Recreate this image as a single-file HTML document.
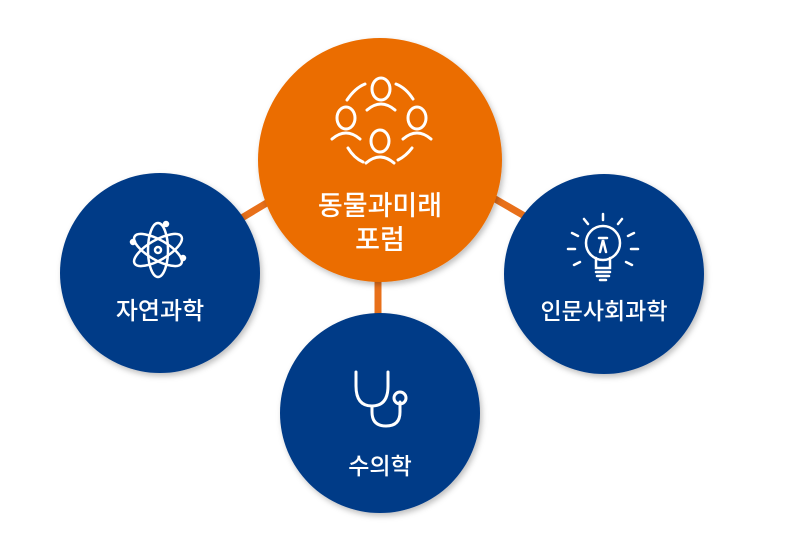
<!DOCTYPE html>
<html><head><meta charset="utf-8"><style>
html,body{margin:0;padding:0;background:#fff;}
svg{display:block}
text{font-family:"Liberation Sans","Noto Sans CJK KR",sans-serif;fill:#fff;text-anchor:middle;font-weight:500}
</style></head><body>
<svg width="791" height="550" viewBox="0 0 791 550" xmlns="http://www.w3.org/2000/svg">
<defs><filter id="sh" x="-20%" y="-20%" width="140%" height="140%"><feDropShadow dx="2" dy="3" stdDeviation="3" flood-color="#000" flood-opacity="0.25"/></filter></defs>
<g stroke="#E8701A" stroke-width="7">
<line x1="235" y1="222" x2="275" y2="198"/>
<line x1="490" y1="196" x2="528" y2="218"/>
<line x1="378" y1="270" x2="378" y2="320"/>
</g>
<circle cx="160" cy="273" r="100" fill="#033A87" filter="url(#sh)"/>
<circle cx="380" cy="413" r="100" fill="#033A87" filter="url(#sh)"/>
<circle cx="604" cy="274" r="100" fill="#033A87" filter="url(#sh)"/>
<circle cx="380" cy="160" r="122" fill="#EB6D00" filter="url(#sh)"/>
<g fill="none" stroke="#fff" stroke-width="3" stroke-linecap="round">
<ellipse cx="381" cy="89" rx="9" ry="11"/><path d="M367 110 q14 -12 28 0"/>
<ellipse cx="346" cy="118" rx="9" ry="11"/><path d="M332 139 q14 -12 28 0"/>
<ellipse cx="417" cy="118" rx="9" ry="11"/><path d="M403 139 q14 -12 28 0"/>
<ellipse cx="380" cy="141" rx="9" ry="11"/><path d="M366 163 q14 -12 28 0"/>
<path d="M347 100 q8 -12 18 -16"/><path d="M396 84 q10 4 17 15"/>
<path d="M348 148 q6 10 15 14"/><path d="M398 160 q8 -4 14 -12"/>
</g>
<text x="380" y="215" font-size="27">동물과미래</text>
<text x="380" y="249" font-size="27">포럼</text>
<g fill="none" stroke="#fff" stroke-width="2.5">
<ellipse cx="158" cy="250" rx="27" ry="10" transform="rotate(90 158 250)"/>
<ellipse cx="158" cy="250" rx="27" ry="10" transform="rotate(30 158 250)"/>
<ellipse cx="158" cy="250" rx="27" ry="10" transform="rotate(-30 158 250)"/>
<circle cx="158" cy="250" r="3"/>
<circle cx="133" cy="242" r="2" fill="#fff"/><circle cx="183" cy="258" r="2" fill="#fff"/><circle cx="166" cy="224" r="2" fill="#fff"/>
</g>
<text x="160" y="319" font-size="24">자연과학</text>
<g fill="none" stroke="#fff" stroke-width="3" stroke-linecap="round">
<path d="M356 372 v14 q0 20 16 20 q16 0 16 -20 v-14"/>
<path d="M372 406 v6 q0 14 14 14 q14 0 14 -14 v-10"/>
<circle cx="400" cy="398" r="6"/>
</g>
<text x="380" y="474" font-size="23">수의학</text>
<g fill="none" stroke="#fff" stroke-width="2.5" stroke-linecap="round">
<circle cx="603" cy="243" r="17"/>
<path d="M596 258 v10 h14 v-10"/><path d="M596 272 h14 M597 276 h12 M600 280 h6"/>
<path d="M600 252 l3 -12 l3 12 M599 238 h8"/>
<path d="M603 220 v-6 M588 224 l-4 -5 M618 224 l4 -5 M578 236 l-6 -3 M628 236 l6 -3 M575 249 h-7 M631 249 h7 M580 262 l-6 3 M626 262 l6 3"/>
</g>
<text x="604" y="319" font-size="23">인문사회과학</text>
</svg>
</body></html>
